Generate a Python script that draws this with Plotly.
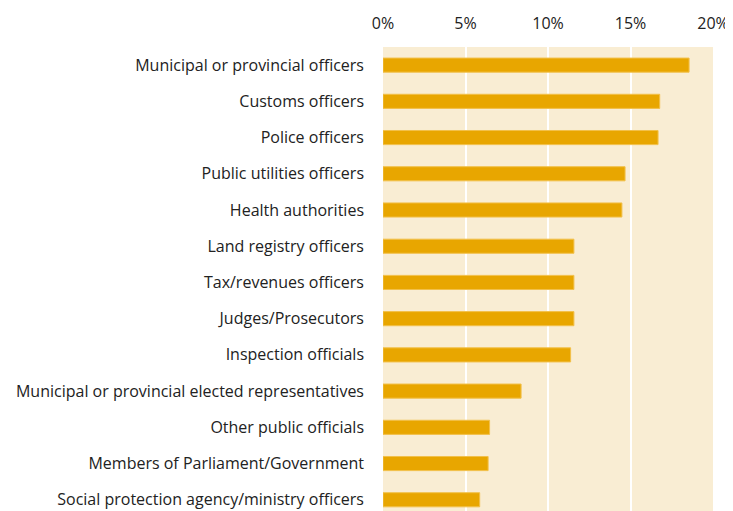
import plotly.graph_objects as go

categories = [
    "Municipal or provincial officers",
    "Customs officers",
    "Police officers",
    "Public utilities officers",
    "Health authorities",
    "Land registry officers",
    "Tax/revenues officers",
    "Judges/Prosecutors",
    "Inspection officials",
    "Municipal or provincial elected representatives",
    "Other public officials",
    "Members of Parliament/Government",
    "Social protection agency/ministry officers",
]
values = [18.55, 16.77, 16.67, 14.67, 14.48, 11.57, 11.57, 11.57, 11.37, 8.37, 6.46, 6.37, 5.86]
tick_vals = [0, 5, 10, 15, 20]
tick_text = ["0%", "5%", "10%", "15%", "20%"]

fig = go.Figure()
fig.add_trace(
    go.Bar(
        x=values,
        y=categories,
        orientation="h",
        marker=dict(color="#E8A600", line=dict(color="#F2C04A", width=1)),
        width=0.39,
        hoverinfo="x+y",
    )
)

# page body has an 8px margin, so the figure is 8px smaller than the window
fig.update_layout(
    width=725,
    height=503,
    margin=dict(l=375, r=20, t=39, b=0, autoexpand=False),
    paper_bgcolor="white",
    plot_bgcolor="#F9EDD3",
    font=dict(family="Open Sans", size=16, color="#222222"),
    showlegend=False,
    xaxis=dict(
        side="top",
        range=[0, 20],
        tickvals=tick_vals,
        ticktext=tick_text,
        showgrid=True,
        gridcolor="white",
        gridwidth=2,
        zeroline=False,
        showline=False,
        ticks="",
        automargin=False,
        ticklabelstandoff=14,
    ),
    yaxis=dict(
        type="category",
        range=[12.31, -0.5],
        showgrid=False,
        zeroline=False,
        showline=False,
        ticks="",
        automargin=False,
        ticklabelstandoff=18,
    ),
)

fig.write_html("out.html")
